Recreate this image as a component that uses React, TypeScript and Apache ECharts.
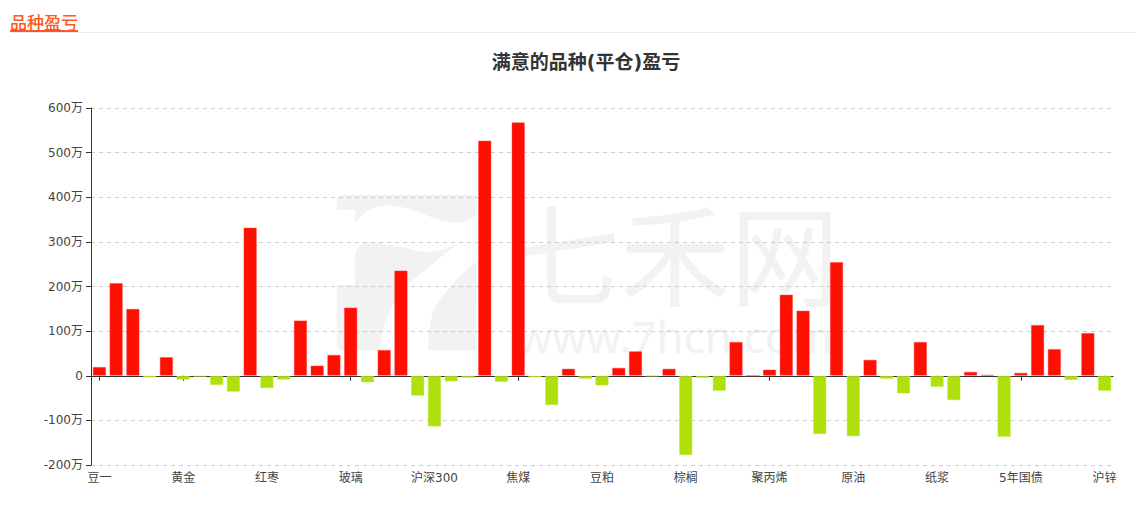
import React, { useEffect, useRef } from "react";
import * as echarts from "echarts";

const categories: string[] = [
  "豆一", "豆二", "豆油", "玉米", "淀粉", "黄金", "白银", "沪铜", "沪铝", "苹果",
  "红枣", "白糖", "棉花", "菜油", "菜粕", "玻璃", "纯碱", "甲醇", "尿素", "上证50",
  "沪深300", "中证500", "铁矿石", "焦炭", "螺纹钢", "焦煤", "热卷", "硅铁", "锰硅", "不锈钢",
  "豆粕", "鸡蛋", "生猪", "花生", "粳米", "棕榈", "塑料", "PVC", "乙二醇", "苯乙烯",
  "聚丙烯", "PTA", "短纤", "沥青", "燃油", "原油", "橡胶", "20号胶", "LPG", "低硫燃油",
  "纸浆", "沪镍", "沪锡", "沪铅", "2年国债", "5年国债", "10年国债", "中证1000", "线材", "菜籽",
  "沪锌",
];

// profit / loss in 万 (10,000 yuan)
const profits: number[] = [
  20, 208, 150, -4, 42, -9, -2, -21, -36, 332,
  -28, -9, 124, 23, 47, 153, -15, 58, 236, -45,
  -114, -13, -5, 527, -14, 568, -4, -66, 16, -7,
  -22, 18, 55, -1, 16, -178, -5, -34, 76, 0,
  14, 182, 146, -131, 255, -136, 36, -7, -40, 76,
  -25, -55, 9, 2, -137, 7, 114, 60, -10, 96,
  -34,
];

const yTicks = { min: -200, max: 600, interval: 100 };

const headerText = "品种盈亏";
const titleText = "满意的品种(平仓)盈亏";
const watermarkName = "七禾网";
const watermarkUrl = "www.7hcn.com";

const RED = "#ff0f00";
const GREEN = "#b0e00b";

const logoPath =
  "M50,90 L50,62 Q50,45 68,45 L470,45 L470,100 Q452,130 410,128 Q370,125 330,110 Q260,78 200,75 Q140,80 105,130 L105,90 Z " +
  "M105,232 Q106,190 150,188 Q200,190 300,215 Q385,222 447,163 Q335,255 255,320 Q192,400 178,512 L68,512 Q50,512 50,492 L50,315 L105,315 Z " +
  "M468,245 Q385,320 345,380 Q325,430 325,512 L470,512 Z";

let logoRegistered = false;

export default function App() {
  const ref = useRef<HTMLDivElement>(null);

  useEffect(() => {
    if (!ref.current) return;
    if (!logoRegistered) {
      echarts.graphic.registerShape("logo", (echarts.graphic as any).extendPath(logoPath, {}));
      logoRegistered = true;
    }
    const chart = echarts.init(ref.current, null, { renderer: "svg" });
    const font = "'DejaVu Sans', 'Noto Sans CJK SC', sans-serif";

    const data = profits.map((v) => ({
      value: v,
      itemStyle: {
        color: v >= 0 ? RED : GREEN,
        borderColor: v >= 0 ? "rgba(255,60,60,0.45)" : "rgba(190,235,60,0.5)",
        borderWidth: 1,
      },
    }));

    chart.setOption({
      animation: false,
      textStyle: { fontFamily: font },
      graphic: [
        {
          type: "logo",
          x: 320,
          y: 180,
          scaleX: 1 / 3,
          scaleY: 1 / 3,
          z: -10,
          silent: true,
          style: { fill: "#f2f2f2" },
        },
        {
          type: "text",
          x: 675,
          y: 194,
          z: -10,
          silent: true,
          style: {
            text: "{a|" + watermarkName + "}\n{b|" + watermarkUrl + "}",
            textAlign: "center",
            textVerticalAlign: "top",
            rich: {
              a: {
                fill: "#f2f2f2",
                fontSize: 110,
                lineHeight: 112,
                fontFamily: "'Noto Sans CJK SC', sans-serif",
                align: "center",
              },
              b: {
                fill: "#f2f2f2",
                fontSize: 44,
                lineHeight: 60,
                fontFamily: "'Noto Sans', sans-serif",
                align: "center",
              },
            },
          },
        },
        {
          type: "line",
          shape: { x1: 10, y1: 32.5, x2: 1136, y2: 32.5 },
          style: { stroke: "#ebebeb", lineWidth: 1 },
        },
        {
          type: "rect",
          shape: { x: 10, y: 30, width: 68, height: 2 },
          style: { fill: "#ff5722" },
        },
        {
          type: "text",
          x: 10,
          y: 21,
          style: {
            text: headerText,
            fill: "#ff5722",
            font: "500 17px 'Noto Sans CJK SC', sans-serif",
            textAlign: "left",
            textVerticalAlign: "middle",
          },
        },
        {
          type: "text",
          x: 586,
          y: 62,
          style: {
            text: titleText,
            fill: "#333",
            font: "bold 19px 'DejaVu Sans', 'Noto Sans CJK SC', sans-serif",
            textAlign: "center",
            textVerticalAlign: "middle",
          },
        },
      ],
      grid: { left: 91, right: 23, top: 108, bottom: 45 },
      xAxis: [
        {
          type: "category",
          data: categories,
          position: "bottom",
          axisLine: { onZero: true, lineStyle: { color: "#333", width: 1 } },
          axisTick: { show: true, interval: 4, alignWithLabel: true, length: 5, lineStyle: { color: "#333" } },
          axisLabel: { show: false, interval: 4 },
          splitLine: { show: false },
        },
        {
          type: "category",
          data: categories,
          position: "bottom",
          axisLine: { show: false, onZero: false },
          axisTick: { show: false },
          axisLabel: { show: true, interval: 4, color: "#444", fontSize: 12, margin: 7, fontFamily: font },
          splitLine: { show: false },
        },
      ],
      yAxis: {
        type: "value",
        min: yTicks.min,
        max: yTicks.max,
        interval: yTicks.interval,
        axisLine: { show: true, lineStyle: { color: "#333" } },
        axisTick: { show: true, length: 5, lineStyle: { color: "#333" } },
        axisLabel: {
          color: "#444",
          fontSize: 12,
          margin: 8,
          fontFamily: font,
          formatter: (v: number) => (v === 0 ? "0" : v + "万"),
        },
        splitLine: { show: true, lineStyle: { color: "#ccc", type: [4, 4] } },
      },
      series: [
        {
          type: "bar",
          xAxisIndex: 0,
          data,
          barWidth: "80%",
        },
      ],
    });

    return () => {
      chart.dispose();
    };
  }, []);

  return (
    <div
      ref={ref}
      style={{ position: "fixed", left: 0, top: 0, width: 1136, height: 510, background: "#fff" }}
    />
  );
}
